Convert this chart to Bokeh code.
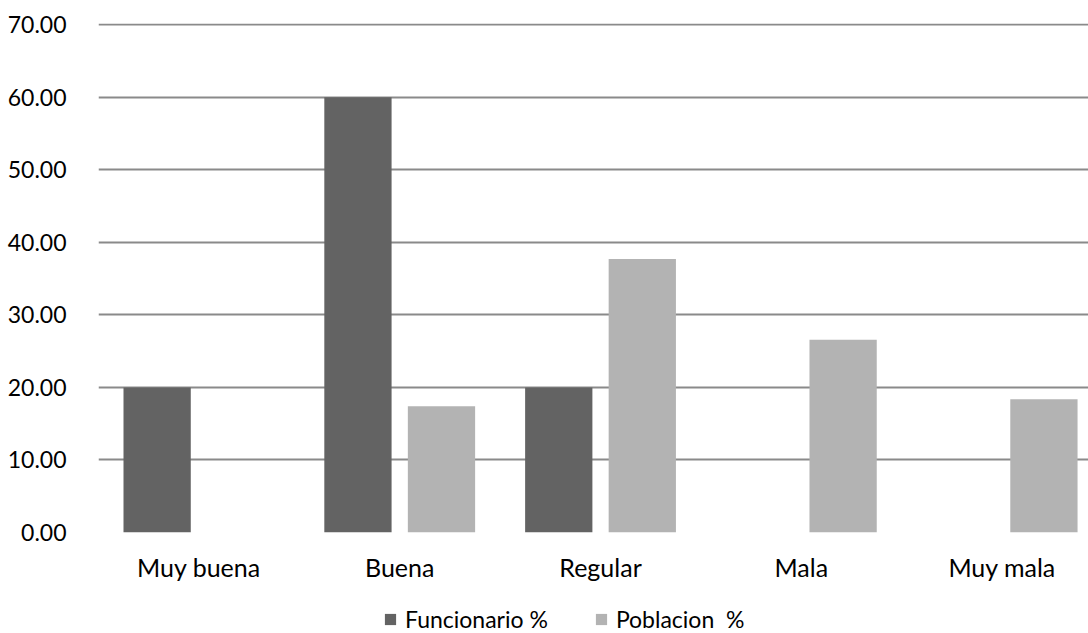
from bokeh.plotting import figure
from bokeh.layouts import column
from bokeh.models import Range1d, FixedTicker, Legend, LegendItem
from bokeh.embed import file_html
from bokeh.resources import INLINE

# Valoración de la atención: porcentaje de respuestas por grupo
categorias = ["Muy buena", "Buena", "Regular", "Mala", "Muy mala"]
funcionario = [20.0, 60.0, 20.0, 0.0, 0.0]
poblacion = [0.0, 17.39, 37.68, 26.57, 18.36]
series = ["Funcionario %", "Poblacion  %"]
y_ticks = [0, 10, 20, 30, 40, 50, 60, 70]

FONT = "Lato"
DARK = "#636363"
LIGHT = "#b3b3b3"

centros = [i + 0.5 for i in range(len(categorias))]
ancho = 0.335
desfase = 0.208
x_f = [c - desfase for c in centros]
x_p = [c + desfase for c in centros]

p = figure(width=1088, height=590, output_backend="svg", toolbar_location=None,
           x_range=Range1d(0, 4.93), y_range=Range1d(0, 70.15),
           min_border_left=98, min_border_right=0, min_border_top=23,
           min_border_bottom=58)
p.outline_line_color = None
p.background_fill_color = "white"
p.border_fill_color = "white"

p.vbar(x=x_f, top=funcionario, bottom=0, width=ancho,
       fill_color=DARK, line_color=None)
p.vbar(x=x_p, top=poblacion, bottom=0, width=ancho,
       fill_color=LIGHT, line_color=None)

# Eje Y con dos decimales
p.yaxis.ticker = FixedTicker(ticks=y_ticks)
p.yaxis.major_label_overrides = {t: f"{t:.2f}" for t in y_ticks}
p.yaxis.axis_line_color = None
p.yaxis.major_tick_line_color = None
p.yaxis.minor_tick_line_color = None
p.yaxis.major_label_standoff = 26
p.yaxis.major_label_text_font = FONT
p.yaxis.major_label_text_font_size = "23px"
p.yaxis.major_label_text_color = "#000000"

# Eje X con las categorías
p.xaxis.ticker = FixedTicker(ticks=centros)
p.xaxis.major_label_overrides = {c: n for c, n in zip(centros, categorias)}
p.xaxis.axis_line_color = None
p.xaxis.major_tick_line_color = None
p.xaxis.minor_tick_line_color = None
p.xaxis.major_label_standoff = 13
p.xaxis.major_label_text_font = FONT
p.xaxis.major_label_text_font_size = "25px"
p.xaxis.major_label_text_color = "#000000"

p.xgrid.grid_line_color = None
p.ygrid.ticker = FixedTicker(ticks=y_ticks)
p.ygrid.grid_line_color = "#8a8a8a"
p.ygrid.grid_line_width = 1.8

# Leyenda en una franja propia debajo del gráfico; las barras de esta
# franja quedan fuera de su rango visible y solo aportan el estilo
lg = figure(width=1088, height=43, output_backend="svg", toolbar_location=None,
            x_range=Range1d(100, 101), y_range=Range1d(100, 101),
            min_border_left=98, min_border_right=0, min_border_top=0,
            min_border_bottom=0)
lg.axis.visible = False
lg.grid.visible = False
lg.outline_line_color = None
lg.border_fill_color = "white"
k_f = lg.vbar(x=x_f, top=funcionario, bottom=0, width=ancho,
              fill_color=DARK, line_color=None)
k_p = lg.vbar(x=x_p, top=poblacion, bottom=0, width=ancho,
              fill_color=LIGHT, line_color=None)

legend = Legend(items=[LegendItem(label=series[0], renderers=[k_f], index=0),
                       LegendItem(label=series[1], renderers=[k_p], index=1)],
                orientation="horizontal", location=(285, 0),
                label_text_font=FONT, label_text_font_size="23px",
                label_text_color="#000000",
                glyph_width=14, glyph_height=14, spacing=46,
                label_standoff=8, border_line_color=None,
                background_fill_alpha=0, margin=0, padding=0)
lg.add_layout(legend, "center")

page = column(p, lg, spacing=0)
open("out.html", "w").write(file_html(page, INLINE))
